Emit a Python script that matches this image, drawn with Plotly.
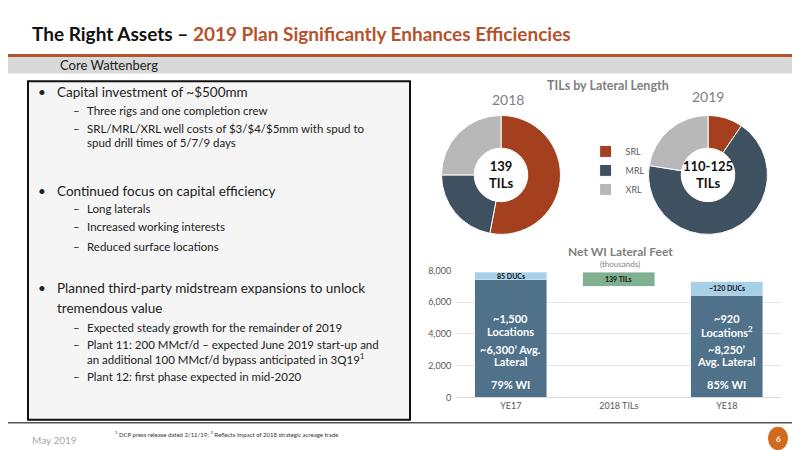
import plotly.graph_objects as go

# -------------------------------------------------------
# Data
# -------------------------------------------------------
lat_labels = ["SRL", "MRL", "XRL"]
tils_2018 = [53, 22, 25]
tils_2019 = [9.5, 68, 22.5]
lat_colors = ["#a5401e", "#3f5161", "#b8b8b8"]

bar_cats = ["YE17", "2018 TILs", "YE18"]
loc_base = [7430, None, 6450]          # locations (thousands of net WI feet)
duc_vals = [450, None, 850]
til_base = [None, 7000, None]
til_vals = [None, 880, None]

FONT = "Lato"
GREY = "#7f7f7f"
ORANGE = "#b5522b"

fig = go.Figure()

# -------------------------------------------------------
# Donuts
# -------------------------------------------------------
for vals, xd, show in [(tils_2018, [0.54, 0.6925], True), (tils_2019, [0.799, 0.951], False)]:
    fig.add_trace(go.Pie(
        labels=lat_labels, values=vals, hole=0.45, sort=False, direction="clockwise",
        marker=dict(colors=lat_colors, line=dict(color="white", width=1)),
        textinfo="none", hoverinfo="label+percent", showlegend=show,
        domain=dict(x=xd, y=[0.498, 0.769])
    ))

# -------------------------------------------------------
# Bars
# -------------------------------------------------------
fig.add_trace(go.Bar(x=bar_cats, y=loc_base, marker_color="#4f7189", showlegend=False))
fig.add_trace(go.Bar(x=bar_cats, y=duc_vals, marker_color="#a6cfe8", showlegend=False))
fig.add_trace(go.Bar(x=bar_cats, y=til_vals, base=til_base, marker_color="#80b08f", showlegend=False))

fig.update_layout(
    width=800, height=450, margin=dict(l=0, r=0, t=0, b=0),
    paper_bgcolor="white", plot_bgcolor="white",
    barmode="stack", bargap=0.33,
    font=dict(family=FONT, color="#222"),
    legend=dict(x=0.722, y=0.72, xanchor="left", yanchor="top", traceorder="normal",
                font=dict(size=9, color="#595959"), bgcolor="rgba(0,0,0,0)",
                itemwidth=30),
    xaxis=dict(domain=[0.561, 0.966], tickfont=dict(size=9, color="#595959"),
               showline=True, linecolor="#d9d9d9", fixedrange=True),
    yaxis=dict(domain=[0.1267, 0.4156], range=[0, 8000], dtick=2000, tickformat=",",
               tickfont=dict(size=9, color="#595959"), gridcolor="#e3e3e3",
               zeroline=False, ticksuffix="  "),
)

# -------------------------------------------------------
# Slide decoration
# -------------------------------------------------------
shapes = [
    dict(type="rect", xref="paper", yref="paper", x0=0, x1=1, y0=1-44/450, y1=1-41/450,
         fillcolor=ORANGE, line_width=0),
    dict(type="rect", xref="paper", yref="paper", x0=0, x1=1, y0=1-61/450, y1=1-44/450,
         fillcolor="#d9d9d9", line_width=0),
    dict(type="rect", xref="paper", yref="paper", x0=20/800, x1=402/800, y0=1-416/450, y1=1-69/450,
         fillcolor="#f5f5f5", line=dict(color="#111", width=2), layer="below"),
    dict(type="line", xref="paper", yref="paper", x0=0, x1=1, y0=1-419/450, y1=1-419/450,
         line=dict(color="#555", width=1.5)),
    dict(type="circle", xref="paper", yref="paper", x0=760/800, x1=780/800, y0=1-447/450, y1=1-423/450,
         fillcolor="#d06a1e", line_width=0),
]
fig.update_layout(shapes=shapes)

ann = []
def t(x, y, s, size, color="#222", bold=False, xanchor="left", ref="paper"):
    if bold:
        s = "<b>" + s + "</b>"
    if ref == "paper":
        ann.append(dict(x=x/800, y=1-y/450, xref="paper", yref="paper", text=s, showarrow=False,
                        font=dict(size=size, color=color, family=FONT), xanchor=xanchor, yanchor="middle"))
    else:
        ann.append(dict(x=x, y=y, xref="x", yref="y", text=s, showarrow=False,
                        font=dict(size=size, color=color, family=FONT), xanchor="center", yanchor="middle"))

t(22, 20, "The Right Assets – <span style='color:%s'>2019 Plan Significantly Enhances Efficiencies</span>" % ORANGE, 19, "#111", True)
t(50, 52, "Core Wattenberg", 13, "#222")

# bullets
bul = [(80, "Capital investment of ~$500mm"), (181, "Continued focus on capital efficiency"),
       (281, "Planned third-party midstream expansions to unlock"), (301, "tremendous value")]
for y, s in bul:
    t(47, y, s, 13.5)
for y in (80, 181, 281):
    t(28, y, "•", 13.5)
subs = [(99, "Three rigs and one completion crew", True),
        (117, "SRL/MRL/XRL well costs of $3/$4/$5mm with spud to", True),
        (132, "spud drill times of 5/7/9 days", False),
        (199, "Long laterals", True), (218, "Increased working interests", True),
        (238, "Reduced surface locations", True),
        (321, "Expected steady growth for the remainder of 2019", True),
        (339, "Plant 11: 200 MMcf/d – expected June 2019 start-up and", True),
        (353, "an additional 100 MMcf/d bypass anticipated in 3Q19<sup>1</sup>", False),
        (372, "Plant 12: first phase expected in mid-2020", True)]
for y, s, dash in subs:
    t(77, y, s, 11.5)
    if dash:
        t(63, y, "–", 11.5)

t(22, 437, "May 2019", 10, "#a6a6a6")
t(105, 431, "<sup>1</sup> DCP press release dated 2/11/19; <sup>2</sup> Reflects impact of 2018 strategic acreage trade", 6, "#333")
t(770, 436, "6", 8, "white", True, "center")

# donut titles
t(600, 73, "TILs by Lateral Length", 12.5, GREY, True, "center")
t(500, 88, "2018", 14, GREY, False, "center")
t(700, 85, "2019", 14, GREY, False, "center")
t(493, 165, "139<br>TILs", 13, "#111", True, "center")
t(700, 165, "110-125<br>TILs", 13, "#111", True, "center")

# bar titles and labels
t(612, 243, "Net WI Lateral Feet", 12, GREY, True, "center")
t(612, 256, "(thousands)", 8, GREY, False, "center")
t("YE17", 7660, "85 DUCs", 7, "#111", True, ref="data")
t("2018 TILs", 7440, "139 TILs", 7, "#111", True, ref="data")
t("YE18", 6880, "~120 DUCs", 7, "#111", True, ref="data")
for cat, lines in [("YE17", [(4950, "~1,500"), (4150, "Locations"), (3050, "~6,300’ Avg."), (2250, "Lateral"), (800, "79% WI")]),
                   ("YE18", [(4950, "~920"), (4150, "Locations<sup>2</sup>"), (3050, "~8,250’"), (2250, "Avg. Lateral"), (800, "85% WI")])]:
    for y, s in lines:
        t(cat, y, s, 11, "white", True, ref="data")

fig.update_layout(annotations=ann)
fig.write_html("out.html")
